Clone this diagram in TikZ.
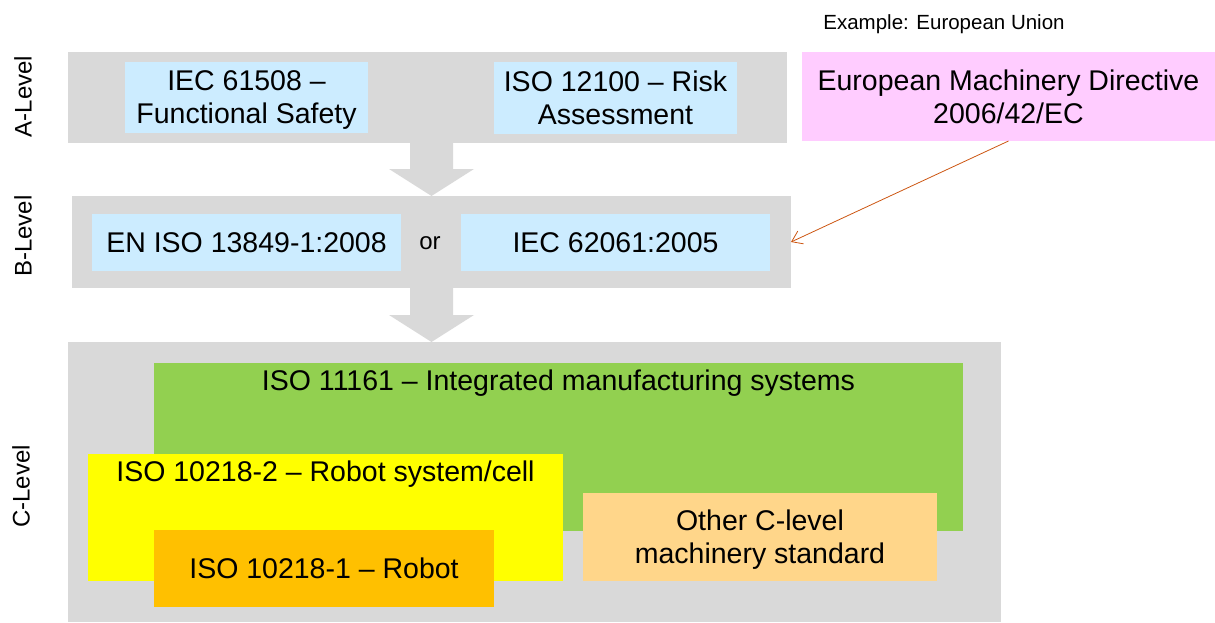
\documentclass[tikz,border=0pt]{standalone}
\usepackage{fontspec}
\setmainfont{Liberation Sans}
\usetikzlibrary{calc,arrows.meta}

\definecolor{levelgrey}{RGB}{217,217,217}
\definecolor{stdblue}{RGB}{204,236,255}
\definecolor{stdgreen}{RGB}{146,208,80}
\definecolor{stdyellow}{RGB}{255,255,0}
\definecolor{stdorange}{RGB}{255,192,0}
\definecolor{stdpeach}{RGB}{255,214,138}
\definecolor{directivepink}{RGB}{255,204,255}
\definecolor{pointerred}{RGB}{204,85,17}

% broad grey arrow from one level down to the next
\newcommand{\levelarrow}[2]{%
  \fill[levelgrey] let \p1=(#1.south), \p2=(#2) in
    (\x2,\y2) -- (\x2+42.5pt,\y2+27pt) -- (\x2+21.5pt,\y2+27pt) -- (\x2+21.5pt,\y1)
    -- (\x2-21.5pt,\y1) -- (\x2-21.5pt,\y2+27pt) -- (\x2-42.5pt,\y2+27pt) -- cycle;}

\begin{document}
\begin{tikzpicture}[x=1pt, y=-1pt,
  every node/.style={inner sep=0pt, outer sep=0pt, font=\fontsize{28.5}{33}\selectfont},
  level/.style={fill=levelgrey},
  std/.style={fill=stdblue, align=center},
  side/.style={rotate=90, font=\fontsize{24}{28}\selectfont},
  boxsize/.style 2 args={minimum width=#1pt, minimum height=#2pt}]
\useasboundingbox (0,0) rectangle (1215,623);

% levels
\node[level, boxsize={719}{91}] (alevel) at (427.5,97.5) {};
\node[level, boxsize={719}{92}] (blevel) at (431.5,242) {};
\node[level, boxsize={933}{280}] (clevel) at (534.5,482) {};

\levelarrow{alevel}{blevel.north}
\levelarrow{blevel}{blevel.south |- clevel.north}

\node[side] (alabel) at (23,96.5) {A-Level};
\node[side] (blabel) at (23,236) {B-Level};
\node[side] (clabel) at (21,486.5) {C-Level};

% A-level
\node[std, boxsize={243}{71}] (iec61508) at (246.5,97.5) {IEC 61508 –\\\smash{Functional Safety}};
\node[std, boxsize={243}{72}] (iso12100) at (615.5,98) {ISO 12100 – Risk\\Assessment};

% B-level
\node[std, boxsize={309}{57}] (eniso) at (246.5,242.5) {EN ISO 13849-1:2008};
\node[font=\fontsize{24}{28}\selectfont] (or) at (430,243) {or};
\node[std, boxsize={309}{57}] (iec62061) at (615.5,242.5) {IEC 62061:2005};

% C-level
\node[fill=stdgreen, boxsize={809}{168},
  label={[anchor=north, yshift=-7pt]north:ISO 11161 – Integrated manufacturing systems}]
  (iso11161) at (558.5,447) {};
\node[fill=stdyellow, boxsize={475}{127},
  label={[anchor=north, yshift=-7pt]north:ISO 10218-2 – Robot system/cell}]
  (iso10218b) at (325.5,517.5) {};
\node[fill=stdorange, boxsize={340}{77}] (iso10218a) at (324,568.5) {ISO 10218-1 – Robot};
\node[fill=stdpeach, boxsize={354}{88}, align=center] (otherc) at (760,537) {Other C-level\\\smash{machinery standard}};

% directive
\node[font=\fontsize{20.5}{24}\selectfont] (example) at (944,24) {Example: European Union};
\node[fill=directivepink, boxsize={413}{89}, align=center] (directive) at (1008.5,96.5)
  {European Machinery Directive\\2006/42/EC};
\draw[pointerred, line width=0.8pt, -{Straight Barb[length=10pt,width=14pt]}] (directive.south) -- (blevel.east);
\end{tikzpicture}
\end{document}
